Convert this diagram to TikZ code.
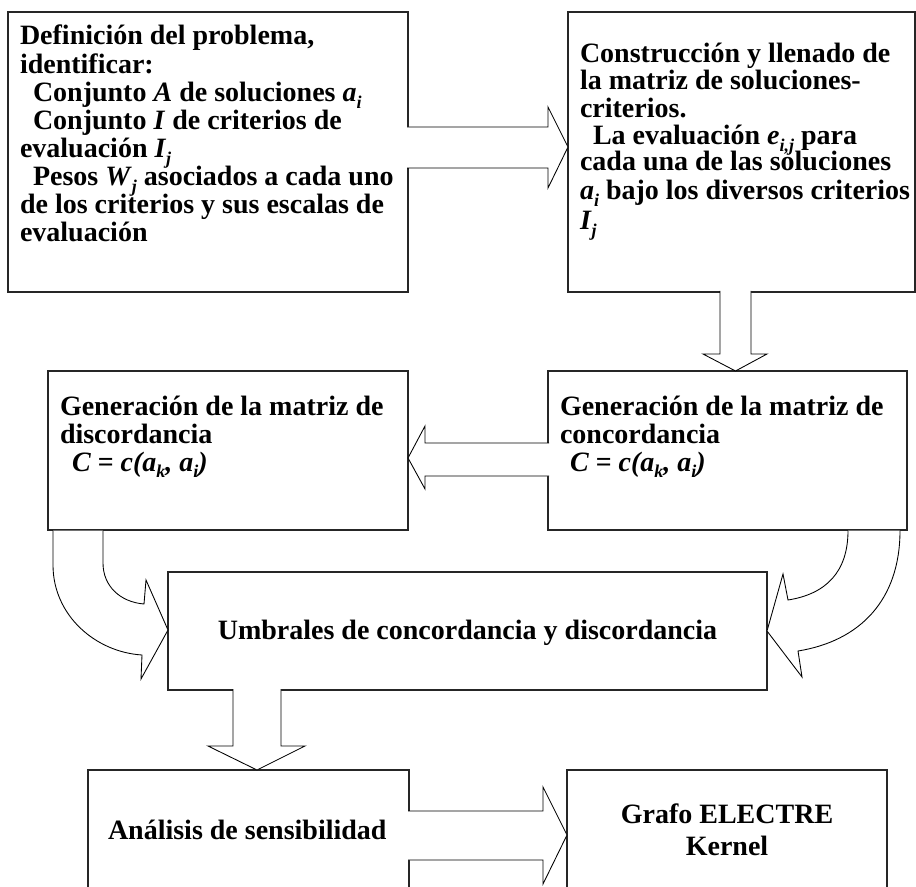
\documentclass[tikz,border=0pt]{standalone}
\usepackage{fontspec}
\setmainfont{Liberation Serif}
\newcommand\mainfnt{\fontsize{21}{21}\selectfont\bfseries}
\newcommand\sbx[1]{\raisebox{-5pt}{\fontsize{13.5}{13.5}\selectfont\itshape #1}}
\tikzset{
  boxst/.style={draw=black!85, line width=0.9pt, fill=white, inner sep=0pt, outer sep=0pt, anchor=north west},
  blockarrow/.style={fill=white, draw=black, line width=0.65pt, line join=miter},
  txt/.style={inner sep=0pt, outer sep=0pt, anchor=base west, font=\mainfnt},
  ctxt/.style={inner sep=0pt, outer sep=0pt, anchor=base, font=\mainfnt},
}
\begin{document}
\begin{tikzpicture}[x=0.75pt,y=-0.75pt]
\useasboundingbox (0,0) rectangle (916,887);
\clip (0,0) rectangle (916,887);
% boxes
\node[boxst, minimum width=300pt, minimum height=210pt] (b1) at (8,12) {};
\node[boxst, minimum width=260.25pt, minimum height=210pt] (b2) at (568,12) {};
\node[boxst, minimum width=270pt, minimum height=119.25pt] (b3) at (48,371) {};
\node[boxst, minimum width=269.25pt, minimum height=119.25pt] (b4) at (548,371) {};
\node[boxst, minimum width=449.25pt, minimum height=88.5pt] (b5) at (168,572) {};
\node[boxst, minimum width=240.75pt, minimum height=110pt] (b6) at (88,770) {};
\node[boxst, minimum width=240pt, minimum height=110pt] (b7) at (567,770) {};
% block arrows
\filldraw[blockarrow] (407,127) -- (548,127) -- (548,107) -- (568,147) -- (548,188) -- (548,168) -- (407,168);
\filldraw[blockarrow] (720,291) -- (720,354) -- (703,354) -- (735.5,371) -- (767,354) -- (751,354) -- (751,291);
\filldraw[blockarrow] (549,443) -- (425,443) -- (425,426) -- (408,458) -- (425,489) -- (425,476) -- (549,476);
\filldraw[blockarrow] (233,689) -- (233,746) -- (208,746) -- (257,770) -- (305,746) -- (281,746) -- (281,689);
\filldraw[blockarrow] (408,811) -- (543,811) -- (543,787) -- (567,835) -- (543,884) -- (543,860) -- (408,860);
% curved arrows
\filldraw[blockarrow] (53,530.5) -- (53,565) .. controls (53,615) and (95,652) .. (142,655) -- (141,679) -- (168,630) -- (146,580) -- (144,604) .. controls (120,602) and (103,586) .. (103,563) -- (103,530.5);
\filldraw[blockarrow] (848,530.5) .. controls (848,572) and (826,594) .. (788,600) -- (783,574) -- (767,631) -- (802,677) -- (798,651) .. controls (860,641) and (900,600) .. (900,530.5);
% texts box 1
\node[txt] (t11) at (20,45) {Definición del problema,};
\node[txt] (t12) at (20,74) {identificar:};
\node[txt] (t13) at (33,102) {Conjunto \textit{A} de soluciones \textit{a}\sbx{i}};
\node[txt] (t14) at (33,130) {Conjunto \textit{I} de criterios de};
\node[txt] (t15) at (20,158) {evaluación \textit{I}\sbx{j}};
\node[txt] (t16) at (33,186) {Pesos \textit{W}\sbx{j} asociados a cada uno};
\node[txt] (t17) at (20,214) {de los criterios y sus escalas de};
\node[txt] (t18) at (20,242) {evaluación};
% texts box 2
\node[txt] (t21) at (580,63) {Construcción y llenado de};
\node[txt] (t22) at (580,90) {la matriz de soluciones-};
\node[txt] (t23) at (580,118) {criterios.};
\node[txt] (t24) at (593,145) {La evaluación \textit{e}\sbx{i,j} para};
\node[txt] (t25) at (580,171) {cada una de las soluciones};
\node[txt] (t26) at (580,200) {\textit{a}\sbx{i} bajo los diversos criterios};
\node[txt] (t27) at (580,230) {\textit{I}\sbx{j}};
% texts box 3
\node[txt] (t31) at (60,415) {Generación de la matriz de};
\node[txt] (t32) at (60,443) {discordancia};
\node[txt] (t33) at (72,471) {\textit{C = c(a\sbx{k}, a\sbx{i})}};
% texts box 4
\node[txt] (t41) at (560,415) {Generación de la matriz de};
\node[txt] (t42) at (560,443) {concordancia};
\node[txt] (t43) at (570,471) {\textit{C = c(a\sbx{k}, a\sbx{i})}};
% other texts
\node[ctxt] (t51) at (467.5,639) {Umbrales de concordancia y discordancia};
\node[txt] (t61) at (108,839) {Análisis de sensibilidad};
\node[ctxt] (t71) at (727,823) {Grafo ELECTRE};
\node[ctxt] (t72) at (727,855) {Kernel};
\end{tikzpicture}
\end{document}
